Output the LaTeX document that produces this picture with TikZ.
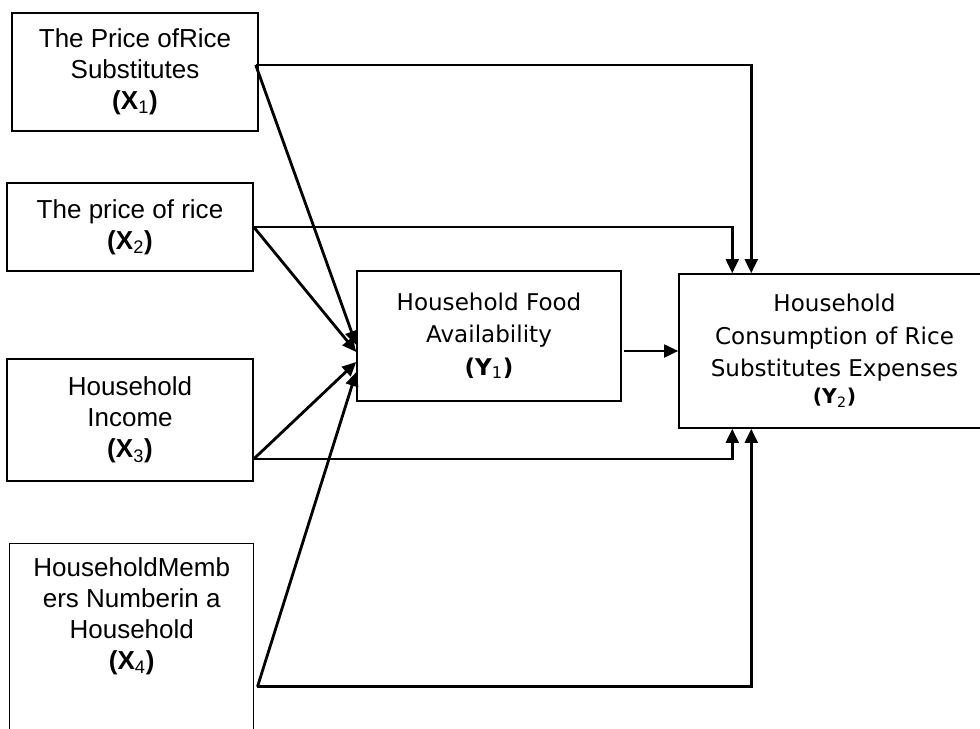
\documentclass[tikz,border=0pt]{standalone}
\usepackage{fontspec}
\setmainfont{Liberation Sans}
\newfontfamily\vfont{DejaVu Sans}
\usepackage{tikz}
\usetikzlibrary{arrows.meta, positioning, calc}

\newcommand{\xfont}{\fontsize{18.5}{22}\selectfont}
\newcommand{\yfont}{\vfont\fontsize{16.4}{22.8}\selectfont}
\newcommand{\xvar}[1]{\textbf{(X}\textsubscript{#1}\textbf{)}}
\newcommand{\yvar}[1]{\textbf{(Y}\textsubscript{#1}\textbf{)}}

\begin{document}
\begin{tikzpicture}[x=0.025cm, y=-0.025cm,
    box/.style={draw, line width=1pt, inner sep=0pt, align=center},
    link/.style={line width=2pt, -{Triangle[length=10pt, width=9pt]}}]
    \useasboundingbox (0,0) rectangle (980,729);

    % Independent variables
    \node[box, font=\xfont, minimum width=6.15cm, minimum height=2.95cm] (x1) at (135,72)
        {The Price ofRice\\ Substitutes\\ \xvar{1}};
    \node[box, font=\xfont, minimum width=6.15cm, minimum height=2.2cm] (x2) at (130,227)
        {The price of rice\\ \xvar{2}};
    \node[box, font=\xfont, minimum width=6.15cm, minimum height=3.05cm] (x3) at (130,420)
        {Household\\ Income\\ \xvar{3}};
    \node[box, minimum width=6.1cm, minimum height=5.5cm, anchor=north west] (x4) at (9,543) {};
    \node[font=\xfont, align=center] (x4txt) at ($(x4.north)+(0,73)$)
        {HouseholdMemb\\ ers Numberin a\\ Household\\ \xvar{4}};

    % Dependent variables
    \node[box, font=\yfont, minimum width=6.6cm, minimum height=3.25cm] (y1) at (489,336)
        {Household Food\\ Availability\\ \yvar{1}};
    \node[box, font=\yfont, minimum width=7.775cm, minimum height=3.85cm] (y2) at (834.5,351)
        {Household\\ Consumption of Rice\\ Substitutes Expenses\\[-3pt]
         {\fontsize{14.5}{16}\selectfont\yvar{2}}};

    % Paths to Y1
    \draw[link] ($(x1.east)+(-3,-7)$) -- ($(y1.west)+(0,9)$);
    \draw[link] (x2.east) -- ($(y1.west)+(0,16)$);
    \draw[link] ($(x3.east)+(0,39)$) -- ($(y1.west)+(0,26)$);
    \draw[link] ($(x4.east)+(3,33)$) -- ($(y1.west)+(0,36)$);

    % Paths to Y2
    \draw[link] ($(x1.east)+(-3,-7)$) -| ($(y2.north west)+(73,0)$);
    \draw[link] (x2.east) -| ($(y2.north west)+(54,0)$);
    \draw[link] ($(x3.east)+(0,39)$) -| ($(y2.south west)+(54,0)$);
    \draw[link] ($(x4.east)+(3,33)$) -| ($(y2.south west)+(73,0)$);
    \draw[link] ($(y1.east)+(2,15)$) -- ($(y2.west)+(0,0)$);

\end{tikzpicture}
\end{document}
